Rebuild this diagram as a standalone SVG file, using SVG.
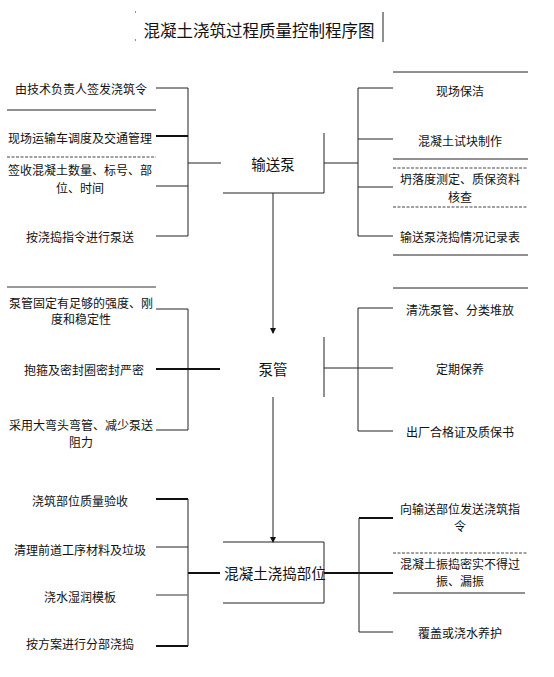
<svg xmlns="http://www.w3.org/2000/svg" width="554" height="677" viewBox="0 0 554 677">
<style>
text{font-family:"Noto Sans CJK SC","Noto Sans",sans-serif;fill:#111;text-anchor:middle;dominant-baseline:central}
.s{font-size:12px}
.c{font-size:14.5px}
.t{font-size:16.5px}
.ln{stroke:#222;stroke-width:1;fill:none}
.th{stroke:#111;stroke-width:2;fill:none}
.gr{stroke:#777;stroke-width:1.5;fill:none}
.dl{stroke:#444;stroke-width:1;stroke-dasharray:3 1.5;fill:none}
</style>
<defs>
<marker id="ah" viewBox="0 0 6 6" refX="5" refY="3" markerWidth="6" markerHeight="6" orient="auto" markerUnits="userSpaceOnUse">
<path d="M0,0 L6,3 L0,6 Z" fill="#111"/>
</marker>
</defs>
<rect width="554" height="677" fill="#fff"/>
<g id="title">
<text class="t" x="259" y="30">混凝土浇筑过程质量控制程序图</text>
<path class="ln" d="M383 12 V42"/>
<path class="ln" d="M135 12 h1 M135 40 h1"/>
</g>
<g id="connectors">
<path class="ln" d="M156 88 H188 M156 186 H188 M156 236 H188 M188 88 V236 M188 163 H221"/>
<path class="th" d="M156 136 H188"/>
<path class="ln" d="M324 163 H358 M358 88 V236 M358 88 H393 M358 139 H393 M358 187 H393 M358 236 H393"/>
<path class="ln" d="M273 193 V333" marker-end="url(#ah)"/>
<path class="ln" d="M156 309 H188 M156 430 H188 M188 309 V430"/>
<path class="th" d="M156 369 H220"/>
<path class="ln" d="M324 368 H358 M358 308 V431 M358 308 H393 M358 368 H393 M358 431 H393"/>
<path class="ln" d="M273 397 V542" marker-end="url(#ah)"/>
<path class="th" d="M156 499 H188 M156 646 H188 M188 573 H220"/>
<path class="ln" d="M156 547 H188 M188 499 V646"/>
<path class="gr" d="M156 595 H188"/>
<path class="th" d="M324 573 H393 M359 518 H393"/>
<path class="ln" d="M359 518 V632 M359 632 H393"/>
</g>
<g id="node-pump">
<path class="ln" d="M324 133 V193 M223 193 H324"/>
<text class="c" x="273" y="163">输送泵</text>
</g>
<g id="node-pipe">
<path class="ln" d="M324 337 V397"/>
<text class="c" x="273" y="368">泵管</text>
</g>
<g id="node-pour">
<path class="ln" d="M223 542 H324 V603 H223"/>
<text class="c" x="275" y="572">混凝土浇捣部位</text>
</g>
<g id="left1">
<path class="ln" d="M7 110 H156"/>
<path class="dl" d="M7 157 H156"/>
<text class="s" x="81" y="88">由技术负责人签发浇筑令</text>
<text class="s" x="80" y="137">现场运输车调度及交通管理</text>
<text class="s" x="80" y="169">签收混凝土数量、标号、部</text>
<text class="s" x="80" y="187">位、时间</text>
<text class="s" x="80" y="236">按浇捣指令进行泵送</text>
</g>
<g id="right1">
<path class="ln" d="M393 72 H528 M393 159 H528 M393 255 H528"/>
<path class="dl" d="M393 168 H528 M393 207 H528"/>
<text class="s" x="460" y="90">现场保洁</text>
<text class="s" x="460" y="140">混凝土试块制作</text>
<text class="s" x="460" y="178">坍落度测定、质保资料</text>
<text class="s" x="460" y="196">核查</text>
<text class="s" x="460" y="236">输送泵浇捣情况记录表</text>
</g>
<g id="left2">
<path class="gr" d="M7 287 H156"/>
<text class="s" x="81" y="302">泵管固定有足够的强度、刚</text>
<text class="s" x="81" y="318">度和稳定性</text>
<text class="s" x="84" y="369">抱箍及密封圈密封严密</text>
<text class="s" x="81" y="424">采用大弯头弯管、减少泵送</text>
<text class="s" x="81" y="441">阻力</text>
</g>
<g id="right2">
<path class="ln" d="M393 288 H528"/>
<text class="s" x="460" y="309">清洗泵管、分类堆放</text>
<text class="s" x="460" y="368">定期保养</text>
<text class="s" x="460" y="431">出厂合格证及质保书</text>
</g>
<g id="left3">
<text class="s" x="80" y="500">浇筑部位质量验收</text>
<text class="s" x="80" y="549">清理前道工序材料及垃圾</text>
<text class="s" x="80" y="596">浇水湿润模板</text>
<text class="s" x="80" y="643">按方案进行分部浇捣</text>
</g>
<g id="right3">
<path class="dl" d="M393 553 H528"/>
<path class="ln" d="M393 593 H525"/>
<text class="s" x="460" y="508">向输送部位发送浇筑指</text>
<text class="s" x="460" y="525">令</text>
<text class="s" x="460" y="563">混凝土振捣密实不得过</text>
<text class="s" x="460" y="580">振、漏振</text>
<text class="s" x="460" y="632">覆盖或浇水养护</text>
</g>
</svg>
